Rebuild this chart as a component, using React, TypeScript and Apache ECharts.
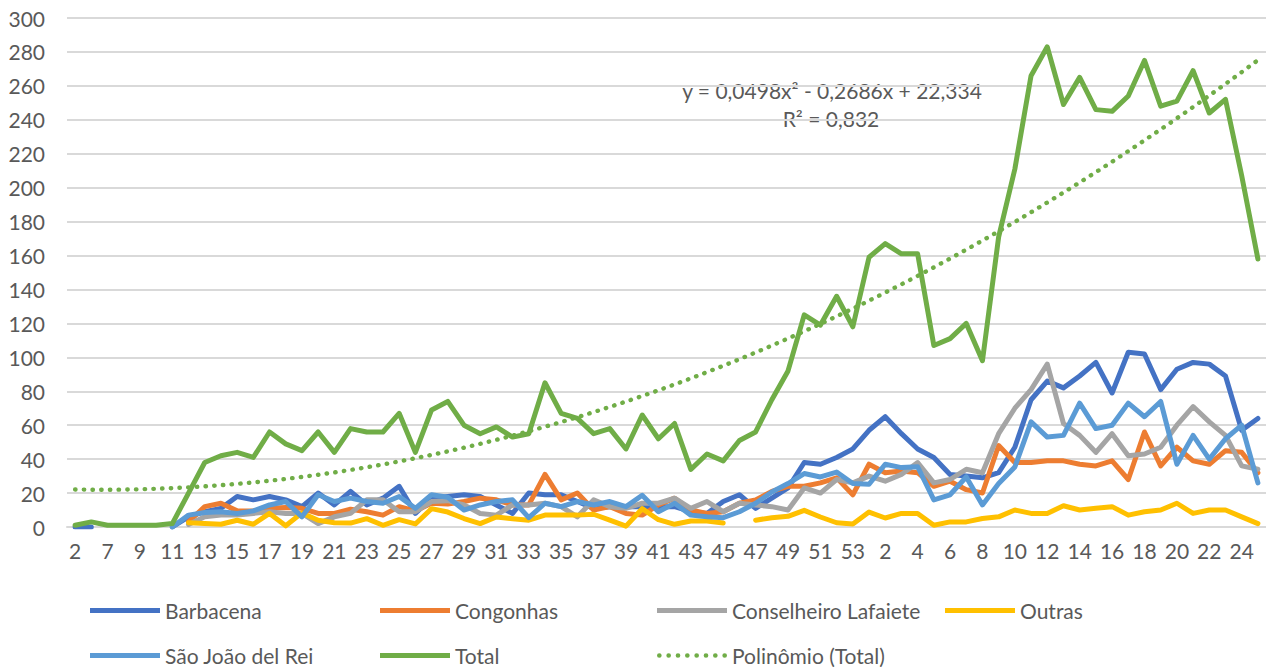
import React, { useEffect, useRef } from "react";
import * as echarts from "echarts";

const categories: string[] = [
  "2", "6", "7", "8", "9", "10", "11", "12", "13", "14", "15", "16", "17", "18", "19", "20",
  "21", "22", "23", "24", "25", "26", "27", "28", "29", "30", "31", "32", "33", "34", "35", "36",
  "37", "38", "39", "40", "41", "42", "43", "44", "45", "46", "47", "48", "49", "50", "51", "52",
  "53", "1", "2", "3", "4", "5", "6", "7", "8", "9", "10", "11", "12", "13", "14", "15", "16",
  "17", "18", "19", "20", "21", "22", "23", "24", "25",
];

const barbacena: (number | null)[] = [
  0, 0, null, null, null, null, 0, 6, 9, 11, 18, 16, 18, 16, 12, 20, 13, 21, 13, 17, 24, 8, 17, 18, 19,
  18, 13, 8, 20, 19, 19, 15, 11, 12, 12, 12, 12, 12, 9, 8, 15, 19, 11, 17, 23, 38, 37, 41, 46, 57,
  65, 55, 46, 41, 31, 30, 29, 32, 47, 75, 86, 82, 89, 97, 79, 103, 102, 81, 93, 97, 96, 89, 57, 64,
];

const congonhas: (number | null)[] = [
  null, null, null, null, null, null, null, 3, 12, 14, 9.5, 9.5, 11, 11.5, 11, 8, 8, 10.5, 9, 7, 12, 9.5, 14, 13.5, 15,
  17, 16, 13, 13, 31, 16, 20, 10, 12, 8, 7, 13, 17, 10, 8, 9, 14, 16, 21, 24, 24, 26, 29, 19, 37,
  32, 33, 32, 24, 27, 22, 20, 48, 38, 38, 39, 39, 37, 36, 39, 28, 56, 36, 47, 39, 37, 45, 44, 32,
];

const lafaiete: (number | null)[] = [
  null, null, null, null, null, null, null, 1.5, 6, 7, 7, 8, 9, 8, 8, 2, 6, 8, 16, 16, 9, 9, 15, 15.5, 13,
  8, 7, 13, 13, 14, 12, 6, 16, 12, 11, 14, 14, 17, 11, 15, 9, 14, 13, 12, 10, 23, 20, 28, 26, 30,
  27, 31, 38, 26, 28, 34, 32, 55, 70, 81, 96, 61, 54, 44, 55, 42, 43, 47, 60, 71, 62, 54, 36, 34,
];

const outras: (number | null)[] = [
  null, null, null, null, null, null, null, 2.5, 2, 1.6, 4, 1.6, 8, 0.7, 8.3, 4, 2.5, 2.3, 4.9, 1, 4.3, 1.8, 10.8, 8.8, 5,
  2, 5.9, 4.9, 4, 7, 7, 7, 7.5, 4, 0.5, 10.8, 4.3, 1.6, 3.5, 3.5, 2.4, null, 4, 5.5, 6.3, 9.8, 5.9, 2.5, 1.8, 8.8,
  5.3, 8, 8, 1, 3, 3, 5, 6, 10, 8, 8, 12.5, 10, 11, 12, 7, 9, 10, 14, 8, 10, 10, 6, 2,
];

const saoJoao: (number | null)[] = [
  null, null, null, null, null, null, 0, 7, 8.5, 9, 8, 9.5, 13, 15, 6, 19, 15, 17, 15, 14, 18, 11, 19, 17.5, 10,
  13, 15, 16, 5.5, 14, 12, 15, 13, 15, 12, 18.7, 9, 14, 7, 6, 5.5, 9, 14, 20.6, 25.6, 31.5, 29.5, 32.4, 25.6, 25.2,
  37, 35, 35.5, 16, 19, 29.5, 13, 25.6, 35.4, 62, 53, 54, 73, 58, 60, 73, 65, 74, 37, 54, 40, 52, 60, 26,
];

const total: number[] = [
  1, 3, 1, 1, 1, 1, 2, 20, 38, 42, 44, 41, 56, 49, 45, 56, 44, 58, 56, 56, 67, 44, 69, 74, 60,
  55, 59, 53, 55, 85, 67, 64, 55, 58, 46, 66, 52, 61, 34, 43, 39, 51, 56, 75, 92, 125, 119, 136, 118, 159,
  167, 161, 161, 107, 111, 120, 98, 171, 211, 266, 283, 249, 265, 246, 245, 254, 275, 248, 251, 269, 244, 252, 207, 158,
];

// Coefficients of the polynomial trendline printed on the chart: y = a·x² + b·x + c (x = 1, 2, ...)
const trendCoefficients: number[] = [0.0498, -0.2686, 22.334];
const equationLines: string[] = ["y = 0,0498x² - 0,2686x + 22,334", "R² = 0,832"];

const seriesNames: string[] = [
  "Barbacena",
  "Congonhas",
  "Conselheiro Lafaiete",
  "Outras",
  "São João del Rei",
  "Total",
  "Polinômio (Total)",
];
const seriesColors: string[] = ["#4472C4", "#ED7D31", "#A5A5A5", "#FFC000", "#5B9BD5", "#70AD47", "#70AD47"];

const FONT = "Lato, 'Open Sans', sans-serif";
const TEXT_COLOR = "#595959";
const FS = 21;

function dottedIconPath(): string {
  const r = 2.3;
  const cy = 2.5;
  let d = "";
  for (let k = 0; k < 8; k++) {
    const cx = 2.5 + k * 9.2;
    d += `M${(cx - r).toFixed(2)},${cy} a${r},${r} 0 1,0 ${2 * r},0 a${r},${r} 0 1,0 ${-2 * r},0 Z `;
  }
  return "path://" + d.trim();
}

export default function App() {
  const ref = useRef<HTMLDivElement>(null);

  useEffect(() => {
    if (!ref.current) return;
    const chart = echarts.init(ref.current, undefined, { renderer: "svg" });

    const trend = total.map((_, i) => {
      const x = i + 1;
      return trendCoefficients[0] * x * x + trendCoefficients[1] * x + trendCoefficients[2];
    });

    const dataSets = [barbacena, congonhas, lafaiete, outras, saoJoao, total, trend];

    const series = dataSets.map((d, k) => ({
      name: seriesNames[k],
      type: "line",
      data: d,
      symbol: "none",
      showSymbol: false,
      connectNulls: false,
      z: k === 6 ? 5 : 2,
      lineStyle:
        k === 6
          ? { color: seriesColors[k], width: 4.4, type: [0.4, 8.3], cap: "round" }
          : { color: seriesColors[k], width: 5, cap: "round", join: "round" },
      itemStyle: { color: seriesColors[k] },
      emphasis: { disabled: true },
    }));

    const legendPos = [
      { left: 90, top: 600 },
      { left: 380, top: 600 },
      { left: 657, top: 600 },
      { left: 945, top: 600 },
      { left: 90, top: 645 },
      { left: 380, top: 645 },
      { left: 657, top: 645 },
    ];

    const dotted = dottedIconPath();

    const legends = seriesNames.map((n, k) => ({
      show: true,
      data: [{ name: n, icon: k === 6 ? dotted : "rect" }],
      left: legendPos[k].left,
      top: legendPos[k].top,
      itemWidth: 70,
      itemHeight: 5,
      padding: 0,
      selectedMode: false,
      textStyle: { color: TEXT_COLOR, fontSize: FS, fontFamily: FONT },
    }));

    chart.setOption({
      animation: false,
      backgroundColor: "#ffffff",
      textStyle: { fontFamily: FONT },
      grid: { left: 67, right: 0, top: 18, bottom: 140, containLabel: false },
      legend: legends,
      xAxis: {
        type: "category",
        data: categories,
        boundaryGap: true,
        axisLine: { show: true, lineStyle: { color: "#D9D9D9", width: 2 } },
        axisTick: { show: false },
        axisLabel: {
          interval: 1,
          color: TEXT_COLOR,
          fontSize: FS,
          fontFamily: FONT,
          margin: 13,
        },
      },
      yAxis: {
        type: "value",
        min: 0,
        max: 300,
        interval: 20,
        axisLine: { show: false },
        axisTick: { show: false },
        splitLine: { show: true, lineStyle: { color: "#D9D9D9", width: 2 } },
        axisLabel: { color: TEXT_COLOR, fontSize: FS, fontFamily: FONT, margin: 22 },
      },
      graphic: [
        {
          type: "text",
          x: 832,
          y: 90,
          style: {
            text: equationLines[0],
            fill: TEXT_COLOR,
            font: `${FS}px ${FONT}`,
            align: "center",
            verticalAlign: "middle",
          },
        },
        {
          type: "text",
          x: 831,
          y: 118,
          style: {
            text: equationLines[1],
            fill: TEXT_COLOR,
            font: `${FS}px ${FONT}`,
            align: "center",
            verticalAlign: "middle",
          },
        },
      ],
      series,
    });

    return () => chart.dispose();
  }, []);

  return (
    <div
      ref={ref}
      style={{ position: "fixed", left: 0, top: 0, width: 1266, height: 667, background: "#fff" }}
    />
  );
}
